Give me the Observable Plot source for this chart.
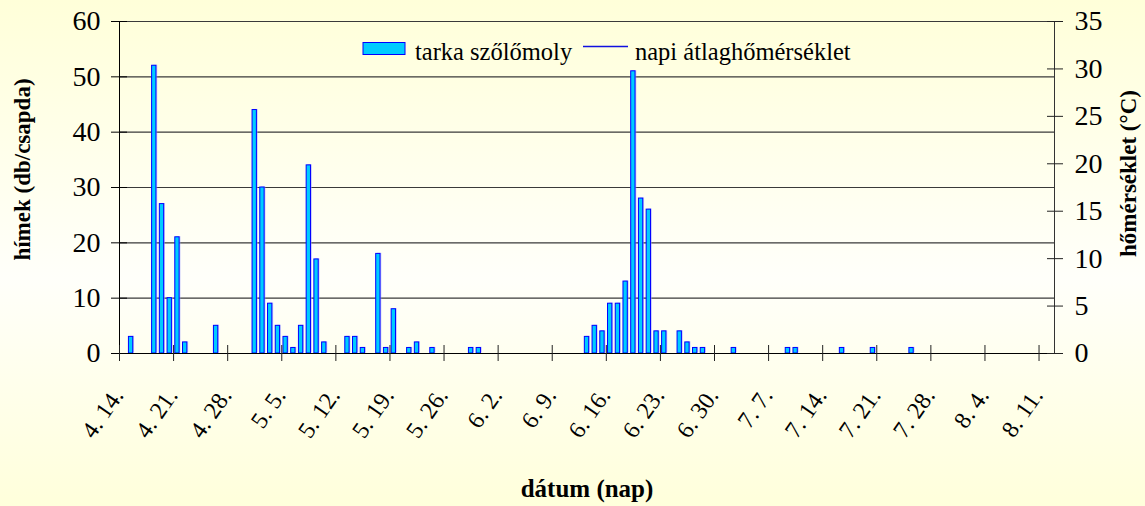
<!DOCTYPE html>
<html>
<head>
<meta charset="utf-8">
<script src="https://cdn.jsdelivr.net/npm/d3@7"></script>
<script src="https://cdn.jsdelivr.net/npm/@observablehq/plot@0.6"></script>
<style>
  html, body { margin: 0; padding: 0; }
  body { width: 1145px; height: 506px; overflow: hidden;
         background: linear-gradient(to bottom, #FFFFD9 0%, #FFFFFA 55%, #FFFFDB 100%); }
  #wrap { position: relative; width: 1145px; height: 506px; }
  #wrap svg { position: absolute; left: 0; top: 0; }
  #wrap svg, #wrap svg text { font-family: "Liberation Serif", "Times New Roman", Times, "DejaVu Serif", serif !important; }
</style>
</head>
<body>
<div id="wrap"></div>
<script>
// ---- data ----
const seriesName = "tarka szőlőmoly";
const tempName = "napi átlaghőmérséklet";
const catchDates = [
  "2008-04-15","2008-04-18","2008-04-19","2008-04-20","2008-04-21","2008-04-22","2008-04-26",
  "2008-05-01","2008-05-02","2008-05-03","2008-05-04","2008-05-05","2008-05-06","2008-05-07",
  "2008-05-08","2008-05-09","2008-05-10","2008-05-13","2008-05-14","2008-05-15","2008-05-17",
  "2008-05-18","2008-05-19","2008-05-21","2008-05-22","2008-05-24","2008-05-29","2008-05-30",
  "2008-06-13","2008-06-14","2008-06-15","2008-06-16","2008-06-17","2008-06-18","2008-06-19",
  "2008-06-20","2008-06-21","2008-06-22","2008-06-23","2008-06-25","2008-06-26","2008-06-27",
  "2008-06-28","2008-07-02","2008-07-09","2008-07-10","2008-07-16","2008-07-20","2008-07-25"
];
const catchCounts = [
  3, 52, 27, 10, 21, 2, 5,
  44, 30, 9, 5, 3, 1, 5,
  34, 17, 2, 3, 3, 1, 18,
  1, 8, 1, 2, 1, 1, 1,
  3, 5, 4, 9, 9, 13, 51,
  28, 26, 4, 4, 4, 2, 1,
  1, 1, 1, 1, 1, 1, 1
];
const xStart = "2008-04-14";
const xEnd = "2008-08-13";
const xTickDates = ["2008-04-14","2008-04-21","2008-04-28","2008-05-05","2008-05-12","2008-05-19",
  "2008-05-26","2008-06-02","2008-06-09","2008-06-16","2008-06-23","2008-06-30","2008-07-07",
  "2008-07-14","2008-07-21","2008-07-28","2008-08-04","2008-08-11"];
const xTickLabels = ["4. 14.","4. 21.","4. 28.","5. 5.","5. 12.","5. 19.","5. 26.","6. 2.","6. 9.",
  "6. 16.","6. 23.","6. 30.","7. 7.","7. 14.","7. 21.","7. 28.","8. 4.","8. 11."];
const leftTicks = [0, 10, 20, 30, 40, 50, 60];
const rightTicks = [0, 5, 10, 15, 20, 25, 30, 35];
const leftMax = 60, rightMax = 35;
const yTitle = "hímek (db/csapda)";
const y2Title = "hőmérséklet (°C)";
const xTitle = "dátum (nap)";

// ---- build ----
const DAY = 864e5;
const parse = s => new Date(s + "T00:00:00Z");
const rows = catchDates.map((d, i) => {
  const t = parse(d);
  return {date: t, next: new Date(+t + DAY), count: catchCounts[i]};
});
const x0 = parse(xStart), x1 = parse(xEnd);
const ticksX = xTickDates.map(parse);
const toLeft = t => t * leftMax / rightMax;

const FONT = '"Liberation Serif", "Times New Roman", Times, "DejaVu Serif", serif';

const chart = Plot.plot({
  width: 1145,
  height: 506,
  marginLeft: 119,
  marginRight: 91,
  marginTop: 21,
  marginBottom: 153,
  style: {background: "transparent", fontFamily: FONT, color: "black", overflow: "visible"},
  x: {type: "utc", domain: [x0, x1], axis: null},
  y: {domain: [0, leftMax], axis: null},
  marks: [
    Plot.ruleY(leftTicks.filter(d => d > 0), {stroke: "#3a3a3a", strokeWidth: 1.1}),
    // bar shadow
    Plot.rectY(rows, {x1: "date", x2: "next", y: "count", insetLeft: 1.7, insetRight: 1.7,
      dx: 1.3, dy: -0.6, fill: "#9a9aff", fillOpacity: 0.6}),
    Plot.rectY(rows, {x1: "date", x2: "next", y: "count", insetLeft: 1.7, insetRight: 1.7,
      fill: "#00CCFF", stroke: "#0000FF", strokeWidth: 1}),
    Plot.ruleX([x0], {stroke: "black", strokeWidth: 1}),
    Plot.ruleX([x1], {stroke: "#333333", strokeWidth: 1}),
    Plot.ruleY([0], {stroke: "black", strokeWidth: 1.2}),
    // crossing tick marks
    Plot.axisY({anchor: "left", ticks: leftTicks, tickSize: 16, dx: 8, tickFormat: () => "", label: null, stroke: "black"}),
    Plot.axisY({anchor: "right", ticks: rightTicks.map(toLeft), tickSize: 16, dx: -8, tickFormat: () => "", label: null, stroke: "#222"}),
    Plot.axisX({anchor: "bottom", ticks: ticksX, tickSize: 16, dy: -8, tickFormat: () => "", label: null, stroke: "#222"}),
    // tick labels
    Plot.axisY({anchor: "left", ticks: leftTicks, tickSize: 0, tickPadding: 19, fontSize: 28, label: null, tickFormat: d => String(d)}),
    Plot.axisY({anchor: "right", ticks: rightTicks.map(toLeft), tickSize: 0, tickPadding: 20, fontSize: 28, label: null,
      tickFormat: d => String(Math.round(d * rightMax / leftMax))}),
    Plot.text(ticksX, {x: d => d, text: (d, i) => xTickLabels[i], frameAnchor: "bottom",
      rotate: -55, textAnchor: "end", lineAnchor: "bottom", dx: 5, dy: 42, fontSize: 24, fill: "black"}),
    // titles
    Plot.text([yTitle], {text: d => d, frameAnchor: "left", textAnchor: "middle", lineAnchor: "middle",
      rotate: -90, dx: -97, dy: -18, fontSize: 23, fontWeight: "bold", fill: "black"}),
    Plot.text([y2Title], {text: d => d, frameAnchor: "right", textAnchor: "middle", lineAnchor: "middle",
      rotate: -90, dx: 74, dy: -14, fontSize: 23, fontWeight: "bold", fill: "black"}),
    Plot.text([xTitle], {text: d => d, frameAnchor: "bottom", textAnchor: "middle", lineAnchor: "bottom", dy: 143,
      fontSize: 25, fontWeight: "bold", fill: "black"})
  ]
});
const wrap = document.getElementById("wrap");
wrap.appendChild(chart);

// legend overlay
const lg = d3.create("svg").attr("width", 1145).attr("height", 506)
  .style("pointer-events", "none");
lg.append("rect").attr("x", 363).attr("y", 42.5).attr("width", 42).attr("height", 12)
  .attr("fill", "#00CCFF").attr("stroke", "#0000FF").attr("stroke-width", 1);
lg.append("text").attr("x", 415).attr("y", 60).attr("font-size", 24.5).attr("fill", "black").text(seriesName);
lg.append("line").attr("x1", 583).attr("x2", 628).attr("y1", 46.5).attr("y2", 46.5)
  .attr("stroke", "#1010E0").attr("stroke-width", 1.5);
lg.append("text").attr("x", 635).attr("y", 60).attr("font-size", 24.5).attr("fill", "black").text(tempName);
wrap.appendChild(lg.node());
</script>
</body>
</html>
